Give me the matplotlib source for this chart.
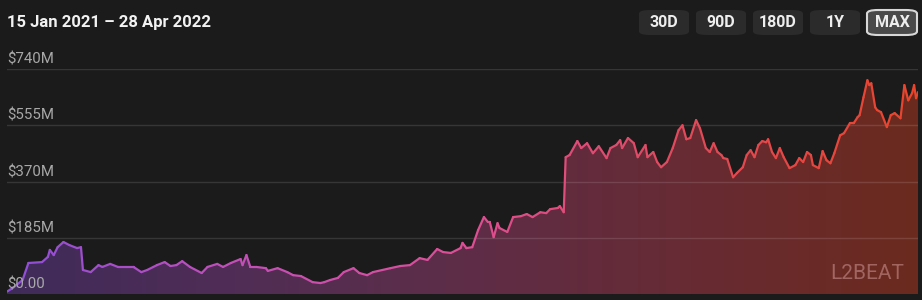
import numpy as np
import matplotlib.pyplot as plt
from matplotlib.collections import LineCollection
from matplotlib.colors import LinearSegmentedColormap
from matplotlib.patches import FancyBboxPatch, Polygon

plt.rcParams['font.family'] = ['Roboto', 'DejaVu Sans']

# ── 데이터 (15 Jan 2021 기준 경과일, TVL 단위 $M) ─────────────────────
DATE_RANGE = '15 Jan 2021 – 28 Apr 2022'
N_DAYS = 468

days = [0, 3, 8, 11, 18, 21, 22, 24, 26, 29, 32, 36, 38, 39, 43, 47, 49, 53,
        57, 61, 65, 69, 72, 77, 81, 84, 87, 90, 94, 100, 103, 108, 111, 115,
        120, 121, 123, 125, 128, 133, 134, 139, 144, 147, 151, 157, 161, 163,
        166, 170, 173, 178, 181, 185, 188, 197, 202, 207, 212, 216, 221, 224,
        228, 233, 234, 236, 239, 242, 245, 247, 248, 250, 252, 253, 257, 260,
        264, 267, 270, 274, 277, 279, 283, 284, 286, 287, 289, 293, 295, 298,
        301, 304, 308, 310, 313, 315, 316, 319, 322, 324, 328, 329, 332, 334,
        336, 339, 342, 345, 347, 349, 351, 354, 356, 359, 361, 363, 365, 367,
        368, 370, 373, 375, 378, 380, 382, 384, 386, 388, 390, 391, 393, 395,
        397, 399, 402, 405, 407, 409, 411, 413, 414, 417, 419, 421, 423, 425,
        428, 430, 433, 435, 437, 438, 440, 442, 443, 444, 446, 447, 449, 452,
        454, 456, 459, 461, 463, 465, 466, 467, 468]

tvl = [8, 20, 46, 102, 105, 122, 145, 128, 154, 171, 161, 151, 154, 79, 72,
       95, 89, 99, 89, 89, 89, 72, 79, 95, 105, 92, 95, 108, 89, 69, 89, 99,
       89, 102, 115, 95, 128, 89, 89, 85, 76, 85, 72, 62, 59, 39, 36, 39, 46,
       53, 72, 85, 69, 62, 72, 85, 92, 95, 118, 112, 148, 138, 135, 151, 168,
       151, 154, 210, 253, 237, 237, 187, 233, 217, 204, 253, 256, 263, 253,
       269, 266, 279, 283, 289, 269, 450, 457, 503, 480, 496, 463, 486, 447,
       480, 490, 506, 480, 513, 496, 450, 490, 450, 467, 434, 417, 434, 480,
       539, 555, 509, 513, 572, 545, 480, 467, 496, 467, 457, 447, 444, 384,
       398, 417, 457, 473, 450, 490, 503, 499, 509, 467, 447, 480, 450, 414,
       424, 447, 434, 467, 457, 424, 414, 470, 440, 430, 463, 522, 529, 562,
       562, 582, 588, 647, 703, 687, 693, 614, 605, 598, 549, 588, 595, 578,
       687, 637, 661, 687, 644, 664]

y_ticks = [0, 185, 370, 555, 740]
y_tick_labels = ['$0.00', '$185M', '$370M', '$555M', '$740M']
ranges = ['30D', '90D', '180D', '1Y', 'MAX']

BG = '#1b1b1b'
LINE_CMAP = LinearSegmentedColormap.from_list(
    'l2_line', ['#8d4fd8', '#c24fb8', '#dc4f96', '#e04a5a', '#e8452c'])
FILL_CMAP = LinearSegmentedColormap.from_list(
    'l2_fill', ['#3f2b5a', '#502d55', '#5e2d48', '#672b33', '#6c2a1e'])

x = np.array(days, dtype=float)
y = np.array(tvl, dtype=float)

fig = plt.figure(figsize=(9.22, 3.0), dpi=100, facecolor=BG)
ax = fig.add_axes([7 / 922, 6 / 300, 911 / 922, 225 / 300])
ax.set_facecolor(BG)
ax.set_xlim(0, N_DAYS)
ax.set_ylim(0, 740)

# 영역 그라데이션: 가로 그라데이션 이미지를 폴리곤으로 클리핑
grad = np.linspace(0, 1, 256).reshape(1, -1)
img = ax.imshow(grad, cmap=FILL_CMAP, aspect='auto',
                extent=[0, N_DAYS, 0, 740], origin='lower', zorder=1)
poly = Polygon(np.column_stack([np.r_[x[0], x, x[-1]], np.r_[0, y, 0]]),
               closed=True, facecolor='none', edgecolor='none')
ax.add_patch(poly)
img.set_clip_path(poly)

# 그리드 (채움 위로 살짝 비침)
for t in y_ticks[1:]:
    ax.axhline(t, color='white', alpha=0.12, linewidth=1.0, zorder=2)

# 선: x 위치에 따라 색 변화
pts = np.column_stack([x, y]).reshape(-1, 1, 2)
segs = np.concatenate([pts[:-1], pts[1:]], axis=1)
lc = LineCollection(segs, cmap=LINE_CMAP, linewidth=1.6, zorder=3,
                    capstyle='round', joinstyle='round')
lc.set_array((x[:-1] + x[1:]) / 2 / N_DAYS)
lc.set_clim(0, 1)
ax.add_collection(lc)

# y 라벨 (그리드 위에 왼쪽 정렬)
for t, lab in zip(y_ticks, y_tick_labels):
    ax.text(0, t + 8, lab, ha='left', va='bottom', fontsize=10.8,
            color='#a8a8a8', zorder=4)

for s in ax.spines.values():
    s.set_visible(False)
ax.set_xticks([])
ax.set_yticks([])

# 워터마크
ax.text(0.985, 0.05, 'L2BEAT', transform=ax.transAxes, ha='right',
        va='bottom', fontsize=15, color='#d8a0a0', alpha=0.5,
        fontstretch='condensed', zorder=4)

# 상단 제목
fig.text(7 / 922, 1 - 22 / 300, DATE_RANGE, ha='left', va='center',
         fontsize=12, fontweight='bold', color='#f2f2f2')

# 기간 버튼
btn_x = [639, 696, 753, 810, 867]
for bx, lab in zip(btn_x, ranges):
    active = lab == 'MAX'
    w, h = 50 / 922, 25 / 300
    box = FancyBboxPatch((bx / 922, 1 - 35 / 300), w, h,
                         boxstyle='round,pad=0,rounding_size=0.012',
                         transform=fig.transFigure,
                         facecolor='#4a4a4a' if active else '#2b2b2b',
                         edgecolor='#d8d8d8' if active else 'none',
                         linewidth=1.5 if active else 0)
    fig.patches.append(box)
    fig.text(bx / 922 + w / 2, 1 - 22.5 / 300, lab, ha='center', va='center',
             fontsize=11.5, fontweight='bold', color='#eeeeee')

fig.savefig('out.png', dpi=100, facecolor=BG)
